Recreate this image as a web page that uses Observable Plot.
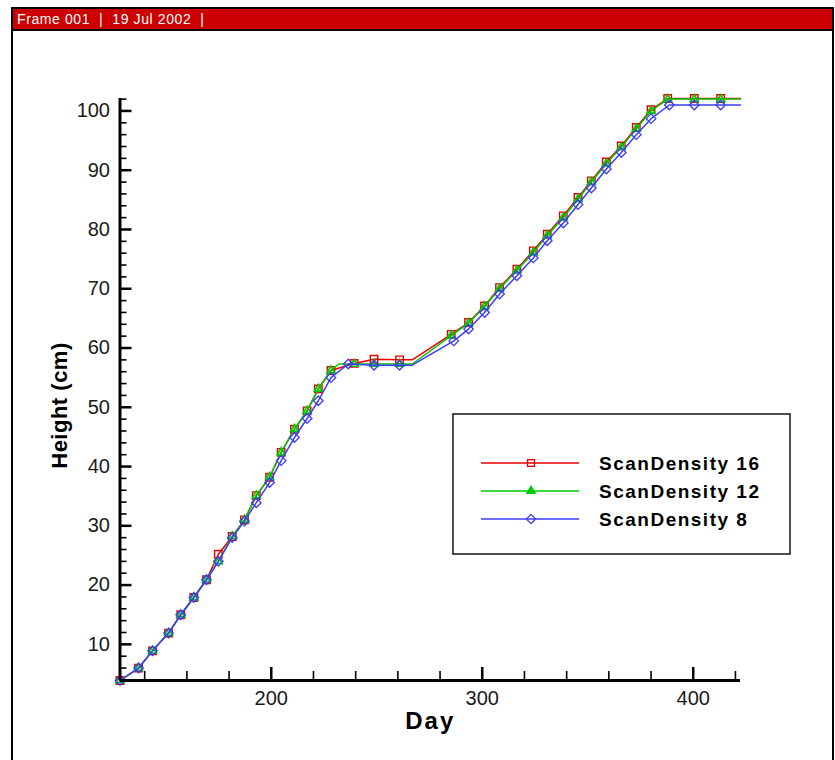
<!DOCTYPE html>
<html><head><meta charset="utf-8">
<script src="https://cdn.jsdelivr.net/npm/d3@7"></script>
<script src="https://cdn.jsdelivr.net/npm/@observablehq/plot@0.6"></script>
<style>
html,body{margin:0;padding:0;background:#fff;}
#page{position:relative;width:835px;height:760px;overflow:hidden;font-family:"Liberation Sans",Arial,sans-serif;background:#fff;}
#frame{position:absolute;left:11px;top:7px;width:823px;height:800px;border:2px solid #000;box-sizing:border-box;}
#bar{position:absolute;left:13px;top:9px;width:819px;height:22px;background:#cc0000;border-bottom:2px solid #000;box-sizing:border-box;color:#fff;font-size:14px;line-height:20px;padding-left:4px;letter-spacing:0.6px;white-space:pre;}
#chart{position:absolute;left:0;top:0;}
#legend{position:absolute;left:452px;top:413px;}
</style>
</head><body>
<div id="page">
  <div id="frame"></div>
  <div id="bar">Frame 001  |  19 Jul 2002  |</div>
  <div id="chart"></div>
  <div id="legend"></div>
</div>
<script>
// ---- data ----
const seriesNames = ["ScanDensity 16", "ScanDensity 12", "ScanDensity 8"];
const seriesColors = ["#e80000", "#00c800", "#3c3cff"];

// ScanDensity 16 (marked points)
const d16Days = [128.3,137.1,143.7,151.3,157.1,163.3,169.3,174.9,181.5,187.3,192.9,199.2,204.7,211.0,217.0,222.3,228.3,239.3,248.7,260.8,285.3,293.5,301.1,308.2,316.4,324.2,330.8,338.4,345.4,351.7,358.8,365.9,373.0,380.0,387.9,400.5,413.0];
const d16Height = [3.9,6.0,8.9,11.9,15.0,17.9,20.9,25.2,28.2,31.0,35.1,38.2,42.4,46.3,49.4,53.1,56.2,57.4,58.1,58.0,62.3,64.3,67.1,70.2,73.3,76.4,79.2,82.3,85.4,88.2,91.4,94.1,97.2,100.2,102.1,102.1,102.1];
// ScanDensity 16 (line-only points)
const d16ExtraDays = [266.8, 422.4];
const d16ExtraHeight = [58.0, 102.1];

// ScanDensity 12
const d12Days = [128.3,137.1,143.7,151.3,157.1,163.3,169.3,174.9,181.5,187.3,192.9,199.2,204.7,211.0,217.0,222.3,228.3,239.3,248.7,260.8,285.3,293.5,301.1,308.2,316.4,324.2,330.8,338.4,345.4,351.7,358.8,365.9,373.0,380.0,387.9,400.5,413.0];
const d12Height = [3.9,6.0,8.9,11.9,15.0,17.9,20.9,24.0,28.2,31.0,35.1,38.2,42.4,46.3,49.4,53.1,56.2,57.3,57.3,57.3,62.1,64.2,67.0,70.0,73.1,76.1,79.0,82.0,85.1,88.0,91.1,93.9,97.0,100.0,102.0,102.0,102.0];
const d12ExtraDays = [232.0, 266.8, 422.4];
const d12ExtraHeight = [57.3, 57.3, 102.0];

// ScanDensity 8
const d8Days = [128.3,137.1,143.7,151.3,157.1,163.3,169.3,174.9,181.5,187.3,192.9,199.2,204.7,211.0,217.0,222.3,228.3,236.5,248.7,260.8,286.5,293.5,301.1,308.2,316.4,324.2,330.8,338.4,345.4,351.7,358.8,365.9,373.0,380.0,388.7,400.5,413.0];
const d8Height = [3.9,6.0,8.9,11.9,15.0,17.9,20.9,24.0,28.0,30.8,33.9,37.3,41.0,44.9,48.1,51.1,55.0,57.3,57.1,57.1,61.2,63.2,66.0,69.1,72.2,75.2,78.1,81.1,84.2,87.0,90.2,93.0,96.0,98.7,101.0,101.0,101.0];
const d8ExtraDays = [266.8, 422.4];
const d8ExtraHeight = [57.1, 101.0];

// axis ticks
const xMajorTicks = [200, 300, 400];
const xMinorTicks = [140,160,180,220,240,260,280,320,340,360,380,420];
const yMajorTicks = [10,20,30,40,50,60,70,80,90,100];
const yMinorTicks = [6,8,12,14,16,18,22,24,26,28,32,34,36,38,42,44,46,48,52,54,56,58,62,64,66,68,72,74,76,78,82,84,86,88,92,94,96,98,102];

// ---- build tables ----
function pts(days, hs, extraDays, extraHs) {
  const marked = days.map((d, i) => ({day: d, h: hs[i]}));
  const extra = extraDays.map((d, i) => ({day: d, h: extraHs[i]}));
  const line = marked.concat(extra).sort((a, b) => a.day - b.day);
  return {marked, line};
}
const s16 = pts(d16Days, d16Height, d16ExtraDays, d16ExtraHeight);
const s12 = pts(d12Days, d12Height, d12ExtraDays, d12ExtraHeight);
const s8 = pts(d8Days, d8Height, d8ExtraDays, d8ExtraHeight);

const allLine = s16.line.concat(s12.line, s8.line);
const xDom = d3.extent(allLine, d => d.day);
const yDom = d3.extent(allLine, d => d.h);

const W = 835, H = 760, mL = 119.5, mR = 95, mT = 98, mB = 80;
const innerW = W - mL - mR, innerH = H - mT - mB;
const font = "Liberation Sans, Arial, Helvetica, sans-serif";

const chart = Plot.plot({
  width: W, height: H,
  marginLeft: mL, marginRight: mR, marginTop: mT, marginBottom: mB,
  style: {background: "transparent", fontFamily: font, fontSize: "20px", color: "#000", overflow: "visible"},
  x: {domain: xDom},
  y: {domain: yDom},
  marks: [
    // inward ticks
    Plot.tickY(yMajorTicks, {y: d => d, insetRight: innerW - 12, stroke: "#000", strokeWidth: 2.5}),
    Plot.tickY(yMinorTicks, {y: d => d, insetRight: innerW - 7, stroke: "#000", strokeWidth: 1.6}),
    Plot.tickX(xMajorTicks, {x: d => d, insetTop: innerH - 13, stroke: "#000", strokeWidth: 2.5}),
    Plot.tickX(xMinorTicks, {x: d => d, insetTop: innerH - 9, stroke: "#000", strokeWidth: 1.6}),
    // axis labels
    Plot.axisY({ticks: yMajorTicks, tickSize: 0, tickPadding: 10, label: null, fontSize: 20, fill: "#1a1a1a"}),
    Plot.axisX({ticks: xMajorTicks, tickSize: 0, tickPadding: 10, label: null, fontSize: 20, fill: "#1a1a1a"}),
    // series
    Plot.line(s16.line, {x: "day", y: "h", stroke: seriesColors[0], strokeWidth: 1.5}),
    Plot.dot(s16.marked, {x: "day", y: "h", symbol: "square", r: 4.2, fill: "none", stroke: seriesColors[0], strokeWidth: 1.4}),
    Plot.line(s12.line, {x: "day", y: "h", stroke: seriesColors[1], strokeWidth: 1.5}),
    Plot.dot(s12.marked, {x: "day", y: "h", symbol: "triangle", r: 2.9, fill: "none", stroke: seriesColors[1], strokeWidth: 1.7}),
    Plot.line(s8.line, {x: "day", y: "h", stroke: seriesColors[2], strokeWidth: 1.5}),
    Plot.dot(s8.marked, {x: "day", y: "h", symbol: "diamond2", r: 4.3, fill: "none", stroke: seriesColors[2], strokeWidth: 1.3}),
    // axis lines
    Plot.ruleX([xDom[0]], {stroke: "#000", strokeWidth: 3}),
    Plot.ruleY([yDom[0]], {stroke: "#000", strokeWidth: 3}),
    // titles
    Plot.text(["Height (cm)"], {frameAnchor: "left", textAnchor: "middle", rotate: -90, lineAnchor: "top", dx: -69, dy: 16, fontSize: 22, fontWeight: "bold", fill: "#000"}),
    Plot.text(["Day"], {frameAnchor: "bottom", textAnchor: "middle", lineAnchor: "top", dy: 31, fontSize: 24, fontWeight: "bold", fill: "#000"})
  ]
});
// title letter spacing (Tecplot-like wide set)
d3.select(chart).selectAll("text").filter(function() { return this.textContent === "Day"; }).attr("letter-spacing", "2px");
d3.select(chart).selectAll("text").filter(function() { return this.textContent === "Height (cm)"; }).attr("letter-spacing", "0.5px");
document.getElementById("chart").appendChild(chart);

// ---- legend ----
const lw = 340, lh = 143;
const lg = d3.create("svg").attr("width", lw).attr("height", lh)
  .style("font-family", font).style("overflow", "visible");
lg.append("rect").attr("x", 1).attr("y", 1).attr("width", lw - 3).attr("height", lh - 3)
  .attr("fill", "#fff").attr("stroke", "#222").attr("stroke-width", 1.6);
const symbols = [d3.symbolSquare, d3.symbolTriangle, d3.symbolDiamond2];
const radii = [3.9, 2.9, 4.2];
const sw = [1.3, 1.6, 1.3];
seriesNames.forEach((name, i) => {
  const y = 50 + i * 28;
  lg.append("line").attr("x1", 29).attr("x2", 127).attr("y1", y).attr("y2", y)
    .attr("stroke", seriesColors[i]).attr("stroke-width", 1.5);
  lg.append("path").attr("transform", `translate(79,${y})`)
    .attr("d", d3.symbol(symbols[i], Math.PI * radii[i] * radii[i])())
    .attr("fill", i === 1 ? seriesColors[i] : "none").attr("stroke", seriesColors[i]).attr("stroke-width", sw[i]);
  lg.append("text").attr("x", 147).attr("y", y + 7).text(name)
    .attr("font-size", 19).attr("font-weight", "bold").attr("letter-spacing", "1.5px").attr("fill", "#000");
});
document.getElementById("legend").appendChild(lg.node());
</script>
</body></html>
